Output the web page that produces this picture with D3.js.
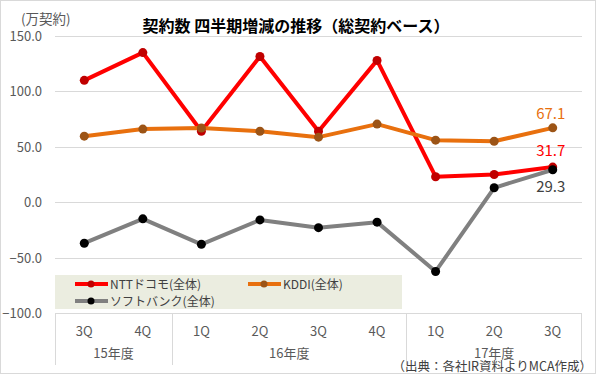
<!DOCTYPE html>
<html>
<head>
<meta charset="utf-8">
<script src="https://cdn.jsdelivr.net/npm/d3@7"></script>
<style>
  html, body { margin: 0; padding: 0; background: #fff; }
  svg { display: block; font-family: "Noto Sans CJK JP", "DejaVu Sans", sans-serif; }
</style>
</head>
<body>
<div id="chart"></div>
<script>
// Quarter labels, fiscal-year groups and the three series (万契約)
const quarters = ["3Q", "4Q", "1Q", "2Q", "3Q", "4Q", "1Q", "2Q", "3Q"];
const years = ["15年度", "16年度", "17年度"];
const yearSpans = [2, 4, 3];
const nttValues = [110, 135, 64, 131.5, 64, 128, 23, 25, 31.7];
const kddiValues = [59.6, 66, 67, 64, 58.7, 70.5, 56, 55, 67.1];
const sbValues = [-37, -15, -38, -16, -23, -18, -62.5, 13, 29.3];
const yTicks = [-100, -50, 0, 50, 100, 150];

const series = [
    { name: "NTTドコモ(全体)", values: nttValues, line: "#ff0000", dot: "#c00000", label: "#ff0000" },
    { name: "KDDI(全体)", values: kddiValues, line: "#e8700e", dot: "#9c5416", label: "#e8700e" },
    { name: "ソフトバンク(全体)", values: sbValues, line: "#808080", dot: "#000000", label: "#404040" }
];

const W = 597, H = 375;
const margin = { top: 36, right: 15, bottom: 62, left: 55 };
const innerW = W - margin.left - margin.right;
const innerH = 313 - margin.top;

const svg = d3.select("#chart").append("svg")
    .attr("width", W)
    .attr("height", H);

// outer frame
svg.append("rect")
    .attr("x", 0.5).attr("y", 0.5)
    .attr("width", W - 2).attr("height", H - 2)
    .attr("fill", "#fff")
    .attr("stroke", "#d9d9d9");

const g = svg.append("g").attr("transform", `translate(${margin.left},${margin.top})`);

const ids = quarters.map((q, i) => i);
const x = d3.scaleBand().domain(ids).range([0, innerW]);
const y = d3.scaleLinear().domain([-100, 150]).range([innerH, 0]);

// grid lines
g.selectAll(".grid")
    .data(yTicks)
    .enter()
    .append("line")
    .attr("x1", 0)
    .attr("x2", innerW)
    .attr("y1", d => Math.round(y(d)) + 0.5)
    .attr("y2", d => Math.round(y(d)) + 0.5)
    .attr("stroke", "#d9d9d9")
    .attr("stroke-width", 1);

// y labels
g.selectAll(".ylab")
    .data(yTicks)
    .enter()
    .append("text")
    .attr("x", -13)
    .attr("y", d => y(d) + 5)
    .attr("text-anchor", "end")
    .attr("font-size", "13px")
    .attr("fill", "#595959")
    .text(d => d3.format(".1f")(d));

svg.append("text")
    .attr("x", 21).attr("y", 24)
    .attr("font-size", "13.5px")
    .attr("fill", "#595959")
    .text("(万契約)");

// title
svg.append("text")
    .attr("x", 296).attr("y", 32)
    .attr("text-anchor", "middle")
    .attr("font-size", "16px")
    .attr("font-weight", "bold")
    .attr("fill", "#000")
    .text("契約数 四半期増減の推移（総契約ベース）");

// x axis: quarter labels, year groups, separators
g.selectAll(".qlab")
    .data(quarters)
    .enter()
    .append("text")
    .attr("x", (d, i) => x(i) + x.bandwidth() / 2)
    .attr("y", innerH + 23)
    .attr("text-anchor", "middle")
    .attr("font-size", "13px")
    .attr("fill", "#595959")
    .text(d => d);

let start = 0;
const groups = years.map((yr, i) => {
    const grp = { name: yr, start: start, end: start + yearSpans[i] };
    start += yearSpans[i];
    return grp;
});

const bounds = [0].concat(groups.map(grp => grp.end));
g.selectAll(".sep")
    .data(bounds)
    .enter()
    .append("line")
    .attr("x1", d => d === ids.length ? innerW - 0.5 : Math.round(x(d)) + 0.5)
    .attr("x2", d => d === ids.length ? innerW - 0.5 : Math.round(x(d)) + 0.5)
    .attr("y1", innerH)
    .attr("y2", innerH + 52)
    .attr("stroke", "#d9d9d9");

g.selectAll(".ylab2")
    .data(groups)
    .enter()
    .append("text")
    .attr("x", d => (x(d.start) + (d.end === ids.length ? innerW : x(d.end))) / 2)
    .attr("y", innerH + 45)
    .attr("text-anchor", "middle")
    .attr("font-size", "13px")
    .attr("fill", "#595959")
    .text(d => d.name);

// legend box
const legend = g.append("g");
legend.append("rect")
    .attr("x", 0).attr("y", -38 + innerH)
    .attr("width", 347).attr("height", 34)
    .attr("fill", "#ebede0");

const legendPos = [
    { dx: 20, dy: innerH - 29 },
    { dx: 193, dy: innerH - 29 },
    { dx: 20, dy: innerH - 12 }
];

series.forEach((s, i) => {
    const p = legendPos[i];
    legend.append("line")
        .attr("x1", p.dx).attr("x2", p.dx + 33)
        .attr("y1", p.dy).attr("y2", p.dy)
        .attr("stroke", s.line).attr("stroke-width", 4);
    legend.append("circle")
        .attr("cx", p.dx + 16).attr("cy", p.dy).attr("r", 3.5)
        .attr("fill", s.dot);
    legend.append("text")
        .attr("x", p.dx + 35).attr("y", p.dy + 4.5)
        .attr("font-size", "12px")
        .attr("fill", "#404040")
        .text(s.name);
});

// lines and markers
const lineGen = d3.line()
    .x((d, i) => x(i) + x.bandwidth() / 2)
    .y(d => y(d));

series.forEach(s => {
    g.append("path")
        .datum(s.values)
        .attr("d", lineGen)
        .attr("fill", "none")
        .attr("stroke", s.line)
        .attr("stroke-width", 4)
        .attr("stroke-linejoin", "round");
});

series.forEach(s => {
    g.selectAll(null)
        .data(s.values)
        .enter()
        .append("circle")
        .attr("cx", (d, i) => x(i) + x.bandwidth() / 2)
        .attr("cy", d => y(d))
        .attr("r", 4.5)
        .attr("fill", s.dot);
});

// end value labels
const last = ids.length - 1;
const endLabels = [
    { s: series[1], dy: -9 },
    { s: series[0], dy: -11 },
    { s: series[2], dy: 22 }
];
endLabels.forEach(l => {
    g.append("text")
        .attr("x", x(last) + x.bandwidth() / 2 - 2)
        .attr("y", y(l.s.values[last]) + l.dy)
        .attr("text-anchor", "middle")
        .attr("font-size", "15px")
        .attr("fill", l.s.label)
        .text(d3.format(".1f")(l.s.values[last]));
});

// source note
svg.append("text")
    .attr("x", 592).attr("y", 371)
    .attr("text-anchor", "end")
    .attr("font-size", "12.5px")
    .attr("fill", "#404040")
    .text("（出典：各社IR資料よりMCA作成）");
</script>
</body>
</html>
